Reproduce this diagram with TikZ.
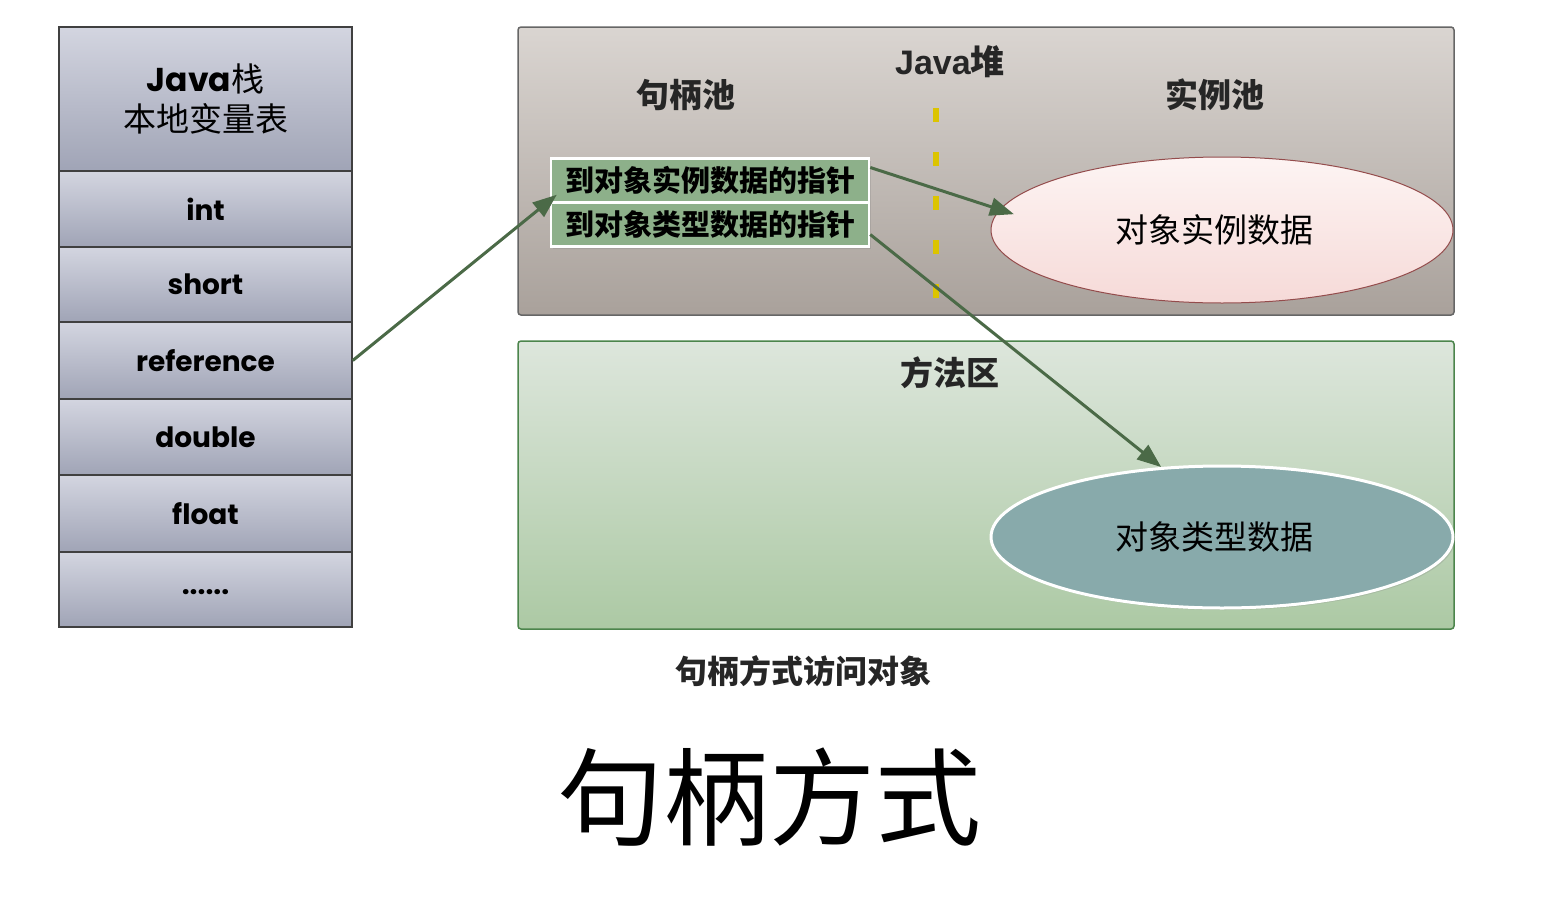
\documentclass[tikz,border=0pt]{standalone}
\usepackage{fontspec}
\usetikzlibrary{arrows.meta,shadows}
\newfontfamily\cjk{Noto Sans CJK SC}
\newfontfamily\geo{Poppins}
\newfontfamily\arial{Liberation Sans}
\definecolor{stacktop}{HTML}{D3D5E0}
\definecolor{stackbot}{HTML}{A0A4B6}
\definecolor{heaptop}{HTML}{DAD5D1}
\definecolor{heapbot}{HTML}{A9A19B}
\definecolor{methtop}{HTML}{DDE6DC}
\definecolor{methbot}{HTML}{ACC9A4}
\definecolor{ptrgreen}{HTML}{8DB08A}
\definecolor{arrowgreen}{HTML}{4B6A47}
\definecolor{divyellow}{HTML}{DCC400}
\definecolor{pinktop}{HTML}{FDF4F3}
\definecolor{pinkbot}{HTML}{F6DAD8}
\definecolor{typeteal}{HTML}{88AAAB}
\tikzset{
    cell/.style={draw=black!75, line width=1.5pt, top color=stacktop, bottom color=stackbot,
        minimum width=293pt, inner sep=0pt, font=\geo\bfseries\fontsize{28}{32}\selectfont},
    area/.style={line width=1.5pt, rounded corners=3pt},
    title/.style={font=\cjk\bfseries\fontsize{33}{36}\selectfont, text=black!85},
    pointer/.style={draw=white, line width=2.5pt, fill=ptrgreen, minimum width=318pt,
        minimum height=44pt, inner sep=0pt, font=\cjk\bfseries\fontsize{29}{31}\selectfont,
        drop shadow={opacity=0.25, shadow xshift=2pt, shadow yshift=-2pt}},
    blob/.style={ellipse, minimum width=462pt, inner sep=0pt, font=\cjk\fontsize{33}{36}\selectfont},
    link/.style={draw=arrowgreen, line width=3pt, -{Triangle[length=24pt,width=18pt]}},
}
\usetikzlibrary{shapes.geometric}
\begin{document}
\begin{tikzpicture}[x=1pt, y=1pt]
    \useasboundingbox[fill=white] (0,0) rectangle (1551,-900);

    % Java stack %
    \node[cell, minimum height=144pt, align=center, font=\cjk\fontsize{33}{40}\selectfont] (head) at (205.5,-99)
        {{\geo\bfseries Java}栈\\本地变量表};
    \node[cell, minimum height=76pt] (int) at (205.5,-209) {int};
    \node[cell, minimum height=75pt] (short) at (205.5,-284.5) {short};
    \node[cell, minimum height=77pt] (ref) at (205.5,-360.5) {reference};
    \node[cell, minimum height=76pt] (dbl) at (205.5,-437) {double};
    \node[cell, minimum height=77pt] (flt) at (205.5,-513.5) {float};
    \node[cell, minimum height=75pt] (more) at (205.5,-589.5) {\raisebox{-10pt}{......}};

    % Heap and method area %
    \draw[area, draw=black!60, top color=heaptop, bottom color=heapbot] (518,-27) rectangle (1454,-315);
    \draw[area, draw=black!45!green!40!gray, top color=methtop, bottom color=methbot] (518,-341) rectangle (1454,-629);
    \draw[divyellow, line width=6pt, dash pattern=on 14pt off 30pt] (936,-108) -- (936,-300);

    \node[font=\arial\bfseries\fontsize{34}{38}\selectfont, text=black!85] (heap) at (950,-62) {Java{\cjk\bfseries 堆}};
    \node[title] (hpool) at (686,-95) {句柄池};
    \node[title] (ipool) at (1215,-95) {实例池};
    \node[title] (marea) at (950,-373) {方法区};

    \node[pointer] (ptrA) at (710,-180.5) {到对象实例数据的指针};
    \node[pointer] (ptrB) at (710,-224.5) {到对象类型数据的指针};

    \node[blob, minimum height=146pt, draw=red!40!black!70, line width=1pt,
        top color=pinktop, bottom color=pinkbot] (inst) at (1222,-230) {\hspace*{-16pt}对象实例数据};
    \node[blob, minimum height=142pt, draw=white, line width=3pt, fill=typeteal,
        drop shadow={opacity=0.25, shadow xshift=2pt, shadow yshift=-2pt}] (type) at (1222,-537) {\hspace*{-16pt}对象类型数据};

    % Arrows %
    \draw[link] (ref.east) -- ([shift={(7,9)}]ptrA.south west);
    \draw[link] ([yshift=13pt]ptrA.east) -- ([xshift=18pt]inst.176);
    \draw[link] ([yshift=-10pt]ptrB.east) -- (type.131);

    % Captions %
    \node[font=\cjk\bfseries\fontsize{32}{36}\selectfont, text=black!85] (cap) at (803,-671) {句柄方式访问对象};
    \node[font=\cjk\fontsize{106}{116}\selectfont] (big) at (769,-797) {句柄方式};
\end{tikzpicture}
\end{document}
